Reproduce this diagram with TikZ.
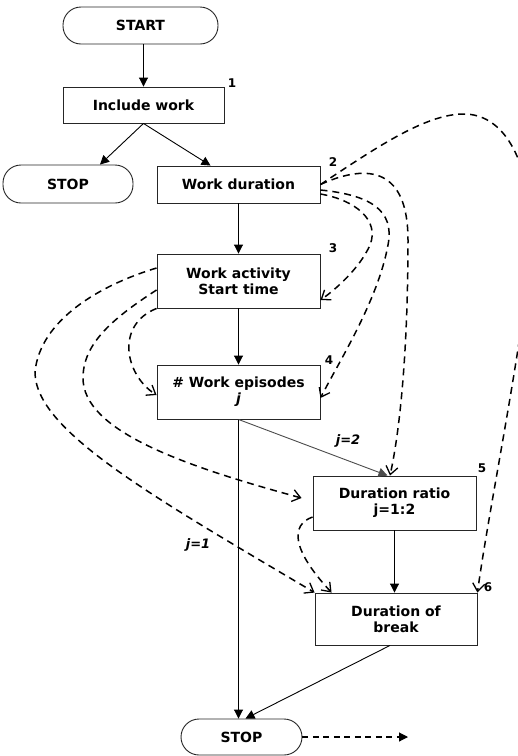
\documentclass[tikz,border=0pt]{standalone}
\usepackage{fontspec}
\setmainfont{DejaVu Sans}
\usetikzlibrary{arrows.meta,calc}

\begin{document}
\begin{tikzpicture}[x=1pt,y=-1pt,
  flowbox/.style={draw=black!85, line width=0.9pt, minimum width=163pt, minimum height=54pt,
    align=center, inner sep=0pt, font=\fontsize{14}{16}\selectfont\bfseries},
  endbox/.style={flowbox, rounded corners=18pt, minimum height=37pt},
  mainarrow/.style={draw=black, line width=0.9pt, -{Triangle[length=9pt,width=9pt]}},
  deplink/.style={draw=black, line width=1.5pt, dash pattern=on 7pt off 5pt,
    -{Straight Barb[length=8pt,width=12pt,line width=1.3pt]}},
  stepnum/.style={font=\fontsize{12}{12}\selectfont\bfseries},
  condlabel/.style={font=\fontsize{13}{13}\selectfont\bfseries\itshape}
]
\fill[white] (0,0) rectangle (518,756);
\useasboundingbox (0,0) rectangle (518,756);
\clip (0,0) rectangle (518,756);

% flowchart blocks
\node[endbox, minimum width=155pt] (start) at (140.5,25.5) {START};
\node[flowbox, minimum width=161pt, minimum height=36pt] (iw) at (143.5,105) {Include work};
\node[endbox, minimum width=130pt, minimum height=38pt] (stop1) at (68,184) {STOP};
\node[flowbox, minimum height=37pt] (wd) at (238.5,184.5) {Work duration};
\node[flowbox] (wa) at (238.5,281) {Work activity\\Start time};
\node[flowbox] (we) at (238.5,392) {\# Work episodes\\\textit{j}};
\node[flowbox] (dr) at (394.5,503) {Duration ratio\\j=1:2};
\node[flowbox, minimum width=162pt, minimum height=52pt] (db) at (396,619) {Duration of\\break};
\node[endbox, minimum width=121pt, minimum height=36pt] (stop2) at (241.5,737) {STOP};

% step numbers
\node[stepnum] (n1) at (232,83) {1};
\node[stepnum] (n2) at (333,162) {2};
\node[stepnum] (n3) at (333,248) {3};
\node[stepnum] (n4) at (329,360) {4};
\node[stepnum] (n5) at (482,468) {5};
\node[stepnum] (n6) at (488,587) {6};

% main flow
\draw[mainarrow] (iw.north |- start.south) -- (iw.north);
\draw[mainarrow] (iw.south) -- ([xshift=32pt]stop1.north);
\draw[mainarrow] (iw.south) -- ([xshift=-28pt]wd.north);
\draw[mainarrow] (wd) -- (wa);
\draw[mainarrow] (wa) -- (we);
\draw[mainarrow] (we.south) -- (we.south |- stop2.north);
\draw[mainarrow, draw=black!70] (we.south) -- ([xshift=-7pt]dr.north);
\draw[mainarrow] (dr.south) -- (dr.south |- db.north);
\draw[mainarrow] ([xshift=-6pt]db.south) -- ([xshift=4pt]stop2.north);
\coordinate (out) at (408,737);
\draw[line width=1.1pt, dash pattern=on 6pt off 4.5pt, -{Triangle[length=9pt,width=9pt]}] (stop2.east) -- (out);

% branch conditions
\node[condlabel] (c2) at (348,441) {j=2};
\node[condlabel] (c1) at (198,545) {j=1};

% dependencies from work duration
\draw[deplink] (wd.east) .. controls (370,152) and (425,113) .. (465,114)
  .. controls (500,115) and (525,150) .. (532,220)
  .. controls (532,300) and (490,500) .. (db.north east);
\draw[deplink] (wd.east) .. controls (370,162) and (408,170) .. (408,240)
  .. controls (408,350) and (400,430) .. ([xshift=-4.5pt]dr.north);
\draw[deplink] ([yshift=-5.5pt]wd.east) .. controls (370,195) and (395,210) .. (388,245)
  .. controls (378,300) and (340,360) .. ([yshift=-6pt]we.east);
\draw[deplink] ([yshift=-9.5pt]wd.east) .. controls (355,200) and (380,220) .. (370,245)
  .. controls (360,268) and (335,290) .. ([yshift=-19pt]wa.east);

% dependencies from work activity / start time
\draw[deplink] ([yshift=13pt]wa.west) .. controls (100,285) and (40,320) .. (35,372)
  .. controls (35,430) and (150,495) .. (db.north west);
\draw[deplink] ([yshift=-9pt]wa.west) .. controls (110,320) and (83,345) .. (83,378)
  .. controls (83,430) and (180,465) .. ([xshift=-11pt,yshift=5pt]dr.west);
\draw[deplink] (wa.south west) .. controls (115,325) and (125,375) .. ([yshift=-3pt]we.west);

% dependency from duration ratio
\draw[deplink] ([yshift=-14pt]dr.west) .. controls (290,525) and (292,550) .. ([xshift=17pt]db.north west);
\end{tikzpicture}
\end{document}
